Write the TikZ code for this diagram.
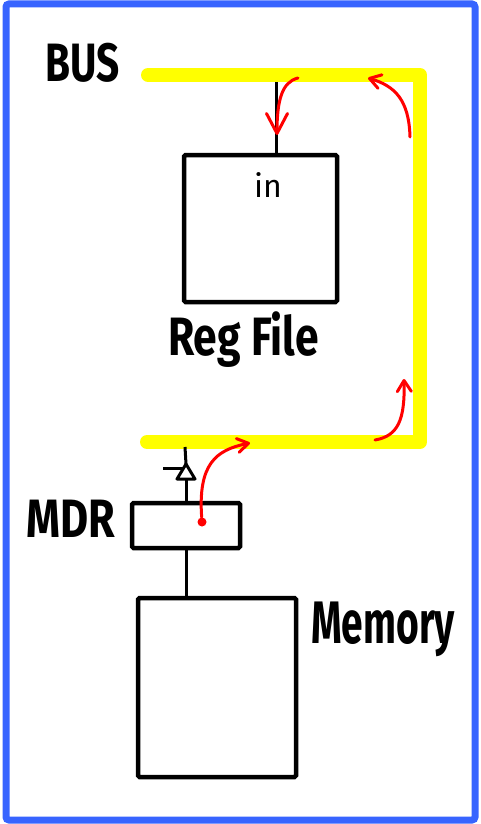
\documentclass[tikz,border=0pt]{standalone}
\usepackage{graphicx}
\usepackage{fontspec}
\setmainfont{Fira Sans}
\usetikzlibrary{arrows.meta}
\definecolor{frameblue}{RGB}{55,100,255}
\definecolor{busyellow}{RGB}{255,255,0}
\newcommand{\hand}[2][0.72]{\scalebox{#1}[1]{#2}}

\begin{document}
\begin{tikzpicture}[x=1pt, y=-1pt,
    lbl/.style={font=\fontsize{54}{54}\selectfont\bfseries, inner sep=0pt, anchor=base west},
    blk/.style={draw, line width=4.5pt, rounded corners=1.5pt, inner sep=0pt},
    wire/.style={line width=3pt},
    bus/.style={busyellow, line width=14pt, line cap=round, line join=round},
    flow/.style={red, line width=3pt, line cap=round, -{Straight Barb[length=20pt, width=21pt, round]}},
    flowsm/.style={flow, -{Straight Barb[length=11pt, width=14pt, round]}}]
\useasboundingbox (0,0) rectangle (480,824);
\draw[frameblue, line width=7pt, rounded corners=3pt] (6,4) rectangle (475,820);
% bus
\coordinate (busTL) at (148,75);
\coordinate (busTR) at (420,75);
\coordinate (busBR) at (420,442);
\coordinate (busBL) at (147,442);
\draw[bus] (busTL) -- (busTR) -- (busBR) -- (busBL);
% blocks
\node[blk, minimum width=153pt, minimum height=147pt] (regfile) at (260.5,228.5) {};
\node[anchor=base, font=\fontsize{32}{32}\selectfont, inner sep=0pt] (inlbl) at (268,197) {in};
\node[blk, minimum width=108pt, minimum height=45pt] (mdr) at (186,525.5) {};
\node[blk, minimum width=158pt, minimum height=179pt] (mem) at (217,687.5) {};
% labels
\node[lbl] (buslbl) at (45,82) {\hand[0.75]{BUS}};
\node[lbl] (reglbl) at (168,355) {\hand[0.79]{Reg File}};
\node[lbl] (mdrlbl) at (26,537) {\hand[0.8]{MDR}};
\node[lbl, font=\fontsize{60}{60}\selectfont\bfseries] (memlbl) at (311,643) {\hand[0.65]{Memory}};
% wires
\coordinate (tapin) at (276,82);
\draw[wire] (tapin) -- (tapin |- regfile.north);
\draw[wire] (mdr.south) -- (mdr.south |- mem.north);
% tri-state buffer
\coordinate (tsbase) at (186,479);
\coordinate (tsleft) at (177,479);
\coordinate (tsright) at (195,479);
\coordinate (tsapex) at (186,464);
\coordinate (tsen) at (163,468);
\coordinate (busdrop) at (185,447);
\draw[wire] (mdr.north) -- (tsbase);
\draw[wire, line join=round] (tsleft) -- (tsapex) -- (tsright) -- cycle;
\draw[wire] (tsapex) -- (busdrop);
\draw[wire] (tsen) -- (183,468);
% data flow
\node[circle, fill=red, inner sep=0pt, minimum size=9pt] (mdrout) at (202,522) {};
\draw[flowsm] (mdrout) .. controls (198,465) and (215,450) .. (250,443);
\draw[flowsm] (375,440) .. controls (398,436) and (405,420) .. (404,379);
\draw[flowsm] (410,137) .. controls (409,100) and (395,86) .. (368,78);
\draw[flow] (298,78) .. controls (282,82) and (277,100) .. (277,135);
\end{tikzpicture}
\end{document}
